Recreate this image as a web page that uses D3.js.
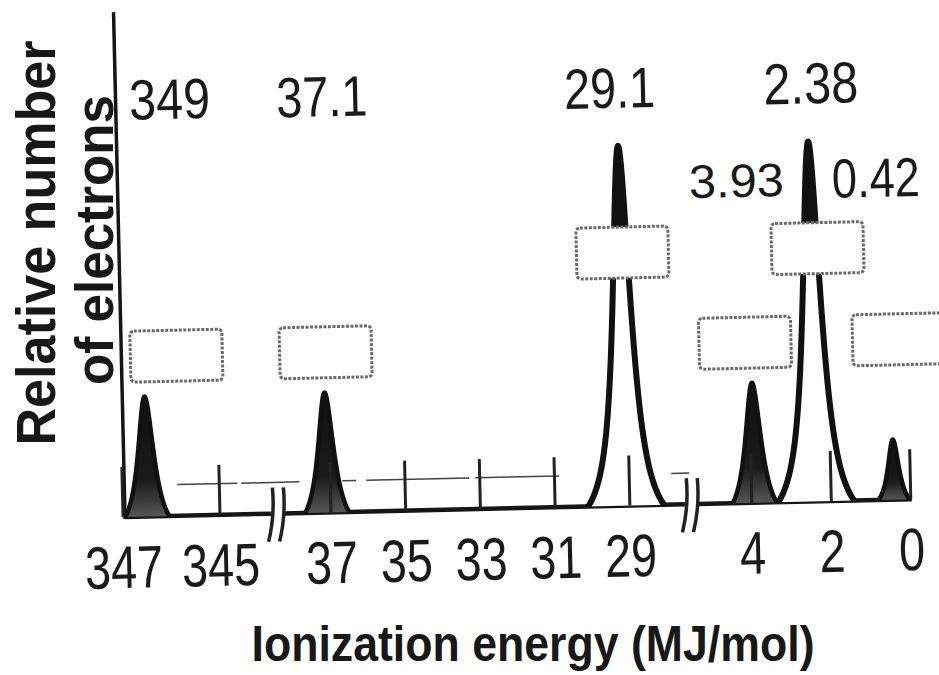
<!DOCTYPE html>
<html>
<head>
<meta charset="utf-8">
<script src="https://cdn.jsdelivr.net/npm/d3@7/dist/d3.min.js"></script>
<style>
  html, body { margin: 0; padding: 0; background: #fff; }
  svg { display: block; }
</style>
</head>
<body>
<div id="chart"></div>
<script>
// ---------------- DATA ----------------
const seg1Ticks = [347, 345];
const seg2Ticks = [37, 35, 33, 31, 29];
const seg3Ticks = [4, 2, 0];
// peak positions (MJ/mol)
const peakEnergy = [346.5, 37.1, 29.1, 3.93, 2.38, 0.42];
// relative number of electrons (peak heights)
const peakHeight = [2, 2, 6, 2, 6, 1];
// printed peak labels
const peakLabels = ["349", "37.1", "29.1", "3.93", "2.38", "0.42"];
const yTitleLines = ["Relative number", "of electrons"];
const xTitle = "Ionization energy (MJ/mol)";

// ---------------- LAYOUT ----------------
const W = 939, H = 675;
const axisX = 125, baseY = 517;
const tilt = -1.3; // the scanned figure is slightly rotated
const numFont = "'Liberation Sans Narrow','Liberation Sans',Arial,sans-serif";
const titleFont = "'Liberation Sans Narrow','Liberation Sans',Arial,sans-serif";

const segments = [
  { ticks: seg1Ticks, domain: [347, 345], range: [123, 220], extent: [axisX, 271], valid: [340, 360] },
  { ticks: seg2Ticks, domain: [37, 29],  range: [331, 630], extent: [283, 686], valid: [25, 45] },
  { ticks: seg3Ticks, domain: [4, 0],    range: [752, 911], extent: [697, 912], valid: [-2, 10] }
];
segments.forEach(s => { s.scale = d3.scaleLinear().domain(s.domain).range(s.range); });
function xOf(v) {
  const s = segments.find(s => v >= s.valid[0] && v <= s.valid[1]);
  return s.scale(v);
}
const y = d3.scaleLinear().domain([0, 8.42]).range([baseY, 12]);

// label placement (layout only): x nudge, baseline y, font size, width
const labelLayout = [
  { minX: axisX + 54, dx: 0,   by: 120, fs: 57, tl: 81 },
  { minX: 0,          dx: 4,   by: 121, fs: 57, tl: 91 },
  { minX: 0,          dx: -7,  by: 119, fs: 57, tl: 91 },
  { minX: 0,          dx: -11, by: 211, fs: 47, tl: 95 },
  { minX: 0,          dx: 4,   by: 119, fs: 58, tl: 95 },
  { minX: 0,          dx: -11, by: 214, fs: 55, tl: 88 }
];
const boxNudge = [0, 2, 2, -6, 7, 8];

const svg = d3.select("#chart").append("svg")
  .attr("width", W).attr("height", H)
  .attr("viewBox", `0 0 ${W} ${H}`);

const defs = svg.append("defs");
const gTall = defs.append("linearGradient").attr("id", "tallFill")
  .attr("x1", 0).attr("y1", 0).attr("x2", 0).attr("y2", 1);
gTall.append("stop").attr("offset", 0).attr("stop-color", "#111");
gTall.append("stop").attr("offset", 0.3).attr("stop-color", "#111");
gTall.append("stop").attr("offset", 0.3).attr("stop-color", "#fff");
gTall.append("stop").attr("offset", 1).attr("stop-color", "#fff");
const gSmall = defs.append("linearGradient").attr("id", "smallFill")
  .attr("x1", 0).attr("y1", 0).attr("x2", 0).attr("y2", 1);
gSmall.append("stop").attr("offset", 0).attr("stop-color", "#111");
gSmall.append("stop").attr("offset", 0.7).attr("stop-color", "#1a1a1a");
gSmall.append("stop").attr("offset", 1).attr("stop-color", "#555");

// ---------------- TITLES (not tilted) ----------------
svg.append("text")
  .attr("transform", `translate(55,243) rotate(-90)`)
  .attr("text-anchor", "middle")
  .attr("font-family", titleFont).attr("font-weight", "bold")
  .attr("font-size", 56).attr("fill", "#181818")
  .attr("textLength", 405).attr("lengthAdjust", "spacingAndGlyphs")
  .text(yTitleLines[0]);
svg.append("text")
  .attr("transform", `translate(113,240) rotate(-90)`)
  .attr("text-anchor", "middle")
  .attr("font-family", titleFont).attr("font-weight", "bold")
  .attr("font-size", 54).attr("fill", "#181818")
  .attr("textLength", 290).attr("lengthAdjust", "spacingAndGlyphs")
  .text(yTitleLines[1]);
svg.append("text")
  .attr("x", 533).attr("y", 661)
  .attr("text-anchor", "middle")
  .attr("font-family", titleFont).attr("font-weight", "bold")
  .attr("font-size", 50).attr("fill", "#181818")
  .attr("textLength", 563).attr("lengthAdjust", "spacingAndGlyphs")
  .text(xTitle);

// ---------------- PLOT (tilted) ----------------
const g = svg.append("g").attr("transform", `rotate(${tilt},${axisX},${baseY})`);

// y axis
g.append("line")
  .attr("x1", axisX).attr("x2", axisX)
  .attr("y1", y(y.domain()[1])).attr("y2", baseY + 2)
  .attr("stroke", "#151515").attr("stroke-width", 3.5);

// baseline segments
g.selectAll("line.base").data(segments).join("line")
  .attr("class", "base")
  .attr("x1", d => d.extent[0]).attr("x2", d => d.extent[1])
  .attr("y1", baseY).attr("y2", baseY)
  .attr("stroke", "#151515").attr("stroke-width", 4.5);

// thin reference line
const refLevel = 0.52;
const refPieces = [[178, 238], [242, 300], [343, 357], [367, 470], [476, 560], [672, 690]];
g.selectAll("line.ref").data(refPieces).join("line")
  .attr("class", "ref")
  .attr("x1", d => d[0]).attr("x2", d => d[1])
  .attr("y1", y(refLevel)).attr("y2", y(refLevel))
  .attr("stroke", "#444").attr("stroke-width", 1.5);

// peaks
const peaks = peakEnergy.map((e, i) => ({ e, h: peakHeight[i], label: peakLabels[i], i }));
function peakPath(d) {
  const px = xOf(d.e);
  const hpx = baseY - y(d.h);
  const dmax = 2 * Math.sqrt(hpx);
  const w = Math.min(11, dmax * 0.45);
  const Lc = 1 / (1 + (dmax / w) ** 2);
  const pts = d3.range(0, 121).map(k => {
    const dd = -dmax + 2 * dmax * k / 120;
    const L = 1 / (1 + (dd / w) ** 2);
    return [px + dd, baseY - hpx * (L - Lc) / (1 - Lc)];
  });
  return d3.line()(pts);
}
g.selectAll("path.peak").data(peaks).join("path")
  .attr("class", "peak")
  .attr("d", peakPath)
  .attr("fill", d => d.h >= 4 ? "url(#tallFill)" : "url(#smallFill)")
  .attr("stroke", "#111")
  .attr("stroke-width", d => d.h >= 4 ? 6 : 4.5)
  .attr("stroke-linejoin", "round");

// ticks
const tickData = segments.flatMap(s => s.ticks.map(t => ({ t, x: s.scale(t) })));
g.selectAll("line.tick").data(tickData).join("line")
  .attr("class", "tick")
  .attr("x1", d => d.x).attr("x2", d => d.x)
  .attr("y1", baseY).attr("y2", baseY - 50)
  .attr("stroke", "#222").attr("stroke-width", 3);

// tick labels
g.selectAll("text.tl").data(tickData).join("text")
  .attr("class", "tl")
  .attr("x", d => d.x).attr("y", baseY + 71)
  .attr("text-anchor", "middle")
  .attr("font-family", numFont).attr("font-size", 60)
  .attr("fill", "#1a1a1a")
  .attr("textLength", d => String(d.t).length * 26)
  .attr("lengthAdjust", "spacingAndGlyphs")
  .text(d => d.t);

// break marks
const breakXs = [277, 691];
breakXs.forEach(bx => {
  g.append("rect").attr("x", bx - 6).attr("y", baseY - 6).attr("width", 12).attr("height", 12).attr("fill", "#fff");
  [-6, 5].forEach(off => {
    g.append("path")
      .attr("d", `M${bx + off - 3},${baseY + 28} Q${bx + off + 4},${baseY + 2} ${bx + off + 2},${baseY - 26}`)
      .attr("fill", "none").attr("stroke", "#222").attr("stroke-width", 3.5);
  });
});

// answer boxes
const boxW = 92, boxH = 51;
g.selectAll("rect.box").data(peaks).join("rect")
  .attr("class", "box")
  .attr("x", d => Math.max(xOf(d.e) - boxW / 2 + boxNudge[d.i], axisX + 9))
  .attr("y", d => y(d.h >= 4 ? 4.22 : 2.67) - boxH / 2)
  .attr("width", boxW).attr("height", boxH)
  .attr("rx", 4)
  .attr("fill", "#fff")
  .attr("stroke", "#6a6a6a").attr("stroke-width", 3)
  .attr("stroke-dasharray", "3,1.5");

// peak value labels
g.selectAll("text.pl").data(peaks).join("text")
  .attr("class", "pl")
  .attr("x", d => Math.max(xOf(d.e) + labelLayout[d.i].dx, labelLayout[d.i].minX))
  .attr("y", d => labelLayout[d.i].by)
  .attr("text-anchor", "middle")
  .attr("font-family", numFont).attr("font-size", d => labelLayout[d.i].fs)
  .attr("fill", "#1a1a1a")
  .attr("textLength", d => labelLayout[d.i].tl)
  .attr("lengthAdjust", "spacingAndGlyphs")
  .text(d => d.label);
</script>
</body>
</html>
